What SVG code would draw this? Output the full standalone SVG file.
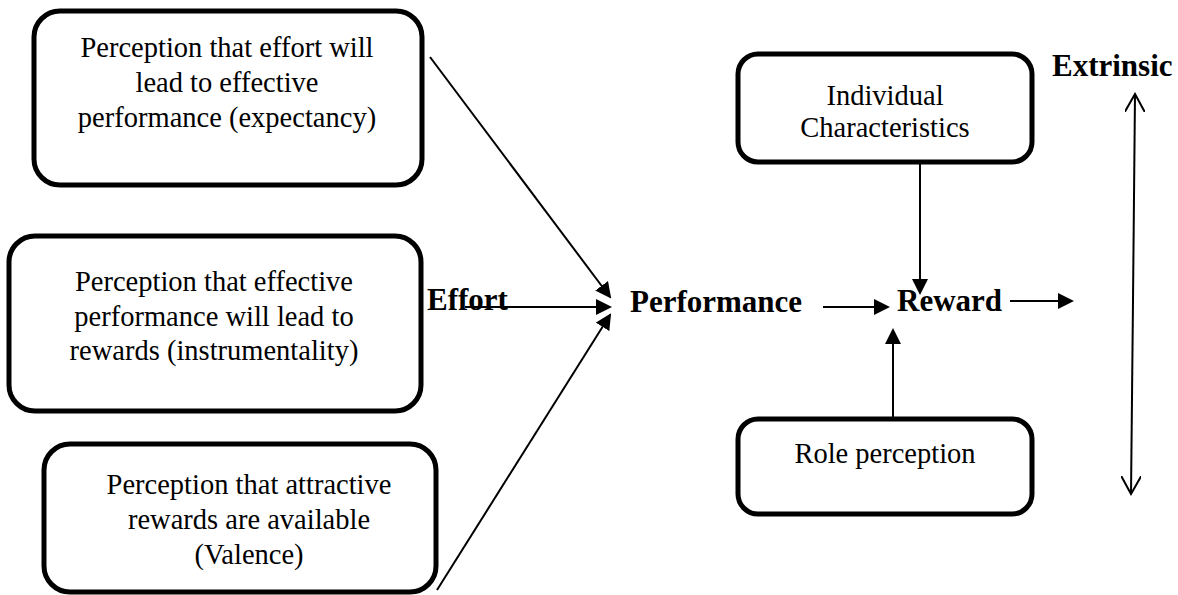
<svg xmlns="http://www.w3.org/2000/svg" width="1178" height="595" viewBox="0 0 1178 595">
<defs>
<style>
text{fill:#000}
.t{font-family:"Liberation Serif","Times New Roman",serif;font-size:28.5px;text-anchor:middle}
.b{font-family:"Liberation Serif","Times New Roman",serif;font-size:31px;font-weight:bold}
.box{fill:#fff;stroke:#000;stroke-width:5}
.ln{stroke:#000;stroke-width:2;fill:none}
</style>
<marker id="ah" markerWidth="8" markerHeight="8" refX="7" refY="4" orient="auto" markerUnits="strokeWidth">
<path d="M0,0 L8,4 L0,8 Z" fill="#000"/>
</marker>
<marker id="oh" markerWidth="10" markerHeight="10" refX="9" refY="5" orient="auto" markerUnits="strokeWidth">
<path d="M0,0 L9,5 L0,10" fill="none" stroke="#000" stroke-width="1"/>
</marker>
</defs>
<rect width="1178" height="595" fill="#fff"/>
<g id="connectors">
<line class="ln" x1="430" y1="57" x2="610" y2="297" marker-end="url(#ah)"/>
<line class="ln" x1="465" y1="307" x2="610" y2="307" marker-end="url(#ah)"/>
<line class="ln" x1="437" y1="590" x2="610" y2="315" marker-end="url(#ah)"/>
<line class="ln" x1="823" y1="307" x2="888" y2="307" marker-end="url(#ah)"/>
<line class="ln" x1="1010" y1="301" x2="1072" y2="301" marker-end="url(#ah)"/>
<line class="ln" x1="920" y1="163" x2="920" y2="293" marker-end="url(#ah)"/>
<line class="ln" x1="893" y1="419" x2="893" y2="330" marker-end="url(#ah)"/>
<line class="ln" x1="1133" y1="300" x2="1135" y2="94" marker-end="url(#oh)"/>
<line class="ln" x1="1133" y1="300" x2="1131" y2="494" marker-end="url(#oh)"/>
</g>
<g id="n1"><rect class="box" x="34" y="11" width="388" height="174" rx="26"/>
<text class="t" x="227" y="57">Perception that effort will</text>
<text class="t" x="227" y="92">lead to effective</text>
<text class="t" x="227" y="127">performance (expectancy)</text></g>
<g id="n2"><rect class="box" x="9" y="236" width="412" height="175" rx="26"/>
<text class="t" x="214" y="291">Perception that effective</text>
<text class="t" x="214" y="326">performance will lead to</text>
<text class="t" x="214" y="360">rewards (instrumentality)</text></g>
<g id="n3"><rect class="box" x="44" y="444" width="392" height="148" rx="26"/>
<text class="t" x="249" y="494">Perception that attractive</text>
<text class="t" x="249" y="529">rewards are available</text>
<text class="t" x="249" y="564">(Valence)</text></g>
<g id="n4"><rect class="box" x="738" y="54" width="294" height="108" rx="20"/>
<text class="t" x="885" y="105">Individual</text>
<text class="t" x="885" y="137">Characteristics</text></g>
<g id="n5"><rect class="box" x="738" y="419" width="294" height="95" rx="20"/>
<text class="t" x="885" y="463">Role perception</text></g>
<g id="labels">
<text class="b" x="427" y="310">Effort</text>
<text class="b" x="630" y="312">Performance</text>
<text class="b" x="897" y="311">Reward</text>
<text class="b" x="1052" y="76">Extrinsic</text>
</g>
</svg>
